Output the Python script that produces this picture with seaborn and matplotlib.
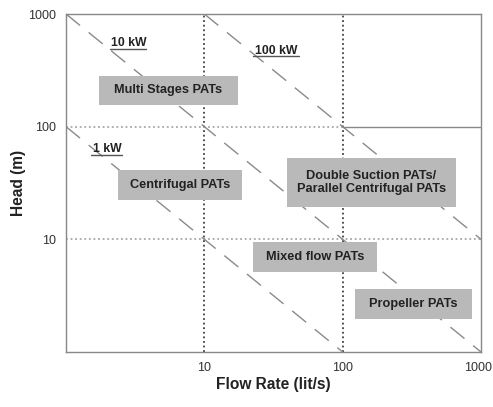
import numpy as np
import pandas as pd
import matplotlib
matplotlib.use("Agg")
import matplotlib.pyplot as plt
import matplotlib.transforms as mtrans
import seaborn as sns
from matplotlib.patches import Rectangle

# ---- data ----
power_labels = ["1 kW", "10 kW", "100 kW"]
line_q = [[1, 100], [1, 1000], [10, 1000]]        # flow (lit/s) endpoints
line_h = [[100, 1], [1000, 1], [1000, 10]]        # head (m) endpoints
x_ticks = [10, 100, 1000]
y_ticks = [10, 100, 1000]
region_labels = ["Multi Stages PATs", "Centrifugal PATs",
                 "Double Suction PATs/\nParallel Centrifugal PATs",
                 "Mixed flow PATs", "Propeller PATs"]

rows = []
for lab, qs, hs in zip(power_labels, line_q, line_h):
    for q, h in zip(qs, hs):
        rows.append({"power": lab, "Q": q, "H": h})
df = pd.DataFrame(rows)

sns.set_style("white")
plt.rcParams["font.family"] = ["Liberation Sans", "DejaVu Sans"]

fig = plt.figure(figsize=(4.93, 4.07), dpi=100)
ax = fig.add_axes([0.1339, 0.1351, 0.8418, 0.8305])
ax.set_xscale("log")
ax.set_yscale("log")
ax.set_xlim(1, 1000)
ax.set_ylim(1, 1000)

# reference grid lines
for xv in [10, 100]:
    ax.plot([xv, xv], [1, 1000], color="#222222", lw=1.1, ls=(0, (1.2, 1.8)), zorder=1)
ax.plot([1, 1000], [10, 10], color="#999999", lw=1.1, ls=(0, (1.2, 1.8)), zorder=1)
ax.plot([1, 100], [100, 100], color="#999999", lw=1.1, ls=(0, (1.2, 1.8)), zorder=1)
ax.plot([100, 1000], [100, 100], color="#888888", lw=1.0, zorder=1)

# power lines
sns.lineplot(data=df, x="Q", y="H", units="power", estimator=None, color="#8a8a8a",
             lw=1.0, ax=ax, zorder=2, sort=False)
for ln in ax.lines[-3:]:
    ln.set_dashes((13, 8))

# region boxes (axes fractions)
boxes = [(0.0795, 0.4145, 0.7308, 0.8166),
         (0.1253, 0.4241, 0.4497, 0.5385),
         (0.5325, 0.9398, 0.4290, 0.5740),
         (0.4506, 0.7494, 0.2367, 0.3254),
         (0.6964, 0.9783, 0.0976, 0.1864)]
for lab, (x0, x1, y0, y1) in zip(region_labels, boxes):
    ax.add_patch(Rectangle((x0, y0), x1 - x0, y1 - y0, transform=ax.transAxes,
                           facecolor="#b9b9b9", edgecolor="none", zorder=3))
    ax.text((x0 + x1) / 2, (y0 + y1) / 2, lab, transform=ax.transAxes,
            ha="center", va="center", fontsize=9.2, fontweight="bold",
            color="#222222", zorder=4, linespacing=1.15)

# power labels with underline
plabs = [("1 kW", 0.065, 0.600, 0.060, 0.135, 0.583),
         ("10 kW", 0.108, 0.915, 0.105, 0.192, 0.897),
         ("100 kW", 0.455, 0.892, 0.450, 0.562, 0.875)]
for lab, tx, ty, ux0, ux1, uy in plabs:
    ax.text(tx, ty, lab, transform=ax.transAxes, ha="left", va="center",
            fontsize=8.8, fontweight="bold", color="#222222", zorder=4)
    ax.plot([ux0, ux1], [uy, uy], transform=ax.transAxes, color="#555555", lw=1.0, zorder=4)

ax.set_xticks(x_ticks)
ax.set_xticklabels([str(t) for t in x_ticks])
ax.set_yticks(y_ticks)
ax.set_yticklabels([str(t) for t in y_ticks])
ax.minorticks_off()
ax.tick_params(length=2, color="#999999", labelsize=9, labelcolor="#333333", pad=5)

# keep the last x tick label inside the figure
last = ax.get_xticklabels()[-1]
last.set_transform(last.get_transform() + mtrans.ScaledTranslation(-3 / 100, 0, fig.dpi_scale_trans))

for s in ax.spines.values():
    s.set_color("#888888")
    s.set_linewidth(1.0)

ax.set_xlabel("Flow Rate (lit/s)", fontsize=11.2, fontweight="bold", color="#222222", labelpad=2)
ax.set_ylabel("Head (m)", fontsize=11.2, fontweight="bold", color="#222222")
ax.yaxis.set_label_coords(-0.097, 0.5)

fig.savefig("out.png", dpi=100)
